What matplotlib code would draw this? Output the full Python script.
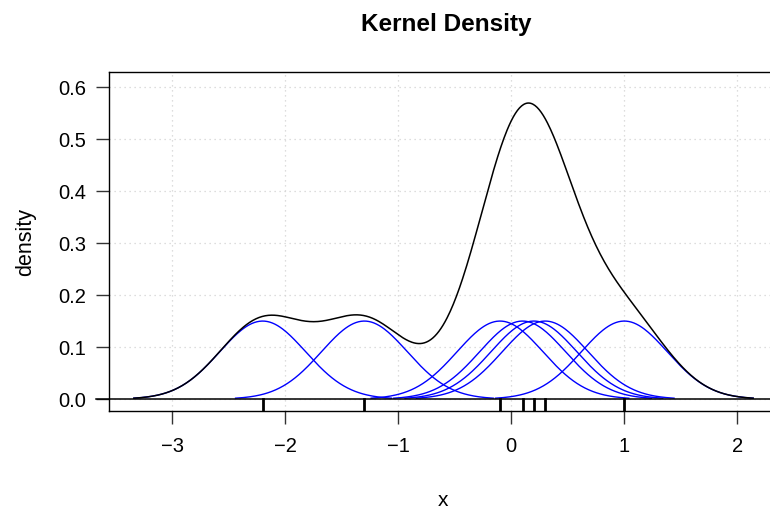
import numpy as np
import matplotlib
matplotlib.use("Agg")
from matplotlib import pyplot as plt

# observations and gaussian bandwidth
obs = [-2.2, -1.3, -0.1, 0.1, 0.2, 0.3, 1.0]
bw = 0.38
xticks = [-3, -2, -1, 0, 1, 2]
yticks = [0.0, 0.1, 0.2, 0.3, 0.4, 0.5, 0.6]

plt.rcParams['font.family'] = ['Liberation Sans', 'DejaVu Sans']

n = len(obs)


def kernel(x, mu):
    return np.exp(-0.5 * ((x - mu) / bw) ** 2) / (bw * np.sqrt(2 * np.pi)) / n


fig = plt.figure(figsize=(7.7, 5.15), dpi=100)
ax = fig.add_axes([109 / 770, (515 - 411) / 515, (778 - 109) / 770, (411 - 72) / 515])

# grid first, dotted light grey
for t in xticks:
    ax.axvline(t, color="#d3d3d3", lw=0.9, ls=(0, (1, 3)), zorder=0)
for t in yticks:
    ax.axhline(t, color="#d3d3d3", lw=0.9, ls=(0, (1, 3)), zorder=0)

# individual kernels
for mu in obs:
    xs = np.linspace(mu - 3 * bw, mu + 3 * bw, 200)
    ax.plot(xs, kernel(xs, mu), color="blue", lw=1.0, zorder=2)

# summed density
grid = np.linspace(min(obs) - 3 * bw, max(obs) + 3 * bw, 600)
dens = sum(kernel(grid, mu) for mu in obs)
ax.plot(grid, dens, color="black", lw=1.1, zorder=3)

ax.set_xlim(-3.56, 2.36)
ax.set_ylim(-0.023, 0.629)

# baseline at zero, running out past the left edge
ax.plot([-0.02, 1.0], [0, 0], transform=ax.get_yaxis_transform(),
        color="black", lw=1.1, clip_on=False, zorder=4)

# rug marks between the baseline and the frame
for mu in obs:
    ax.plot([mu, mu], [0, -0.023], color="black", lw=2.0, zorder=4)

ax.set_xticks(xticks)
ax.set_xticklabels(["\u22123", "\u22122", "\u22121", "0", "1", "2"])
ax.set_yticks(yticks)
ax.set_yticklabels(["0.0", "0.1", "0.2", "0.3", "0.4", "0.5", "0.6"])
ax.tick_params(axis="both", length=9.5, width=1.0, color="#333333",
               labelsize=14.5)
ax.tick_params(axis="x", pad=9)
ax.tick_params(axis="y", pad=7)
for s in ax.spines.values():
    s.set_linewidth(1.0)

ax.set_xlabel("x", fontsize=15, va="center")
ax.xaxis.set_label_coords(0.5, (411 - 500) / 339)
ax.set_ylabel("density", fontsize=15.5, va="center")
ax.yaxis.set_label_coords((26 - 109) / 669, 0.5)
fig.text(446 / 770, 1 - 24 / 515, "Kernel Density", fontsize=17.5,
         fontweight="bold", ha="center", va="center")

fig.savefig("out.png", dpi=100)
